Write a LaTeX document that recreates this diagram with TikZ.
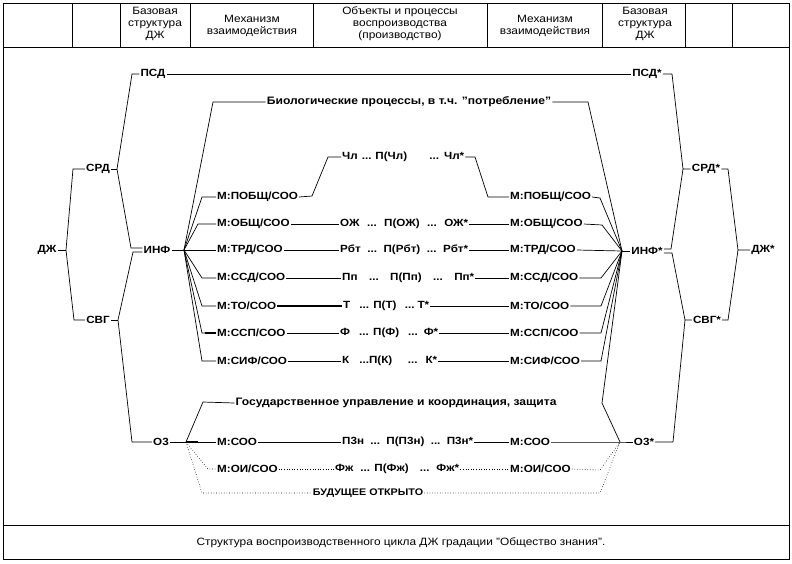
\documentclass[tikz,border=0pt]{standalone}
\usepackage{fontspec}
\setmainfont{Liberation Sans}[FakeStretch=1.12]
\newcommand{\rowbox}[2]{\hbox to #1{#2}}
\begin{document}
\begin{tikzpicture}[x=1pt,y=-1pt,
  lbl/.style={font=\fontsize{10.4}{12}\selectfont\bfseries, inner sep=1pt},
  big/.style={font=\fontsize{10.8}{12}\selectfont\bfseries, inner sep=1pt},
  hdr/.style={font=\fontsize{10.6}{12}\selectfont, align=center, inner sep=0pt},
  ln/.style={line width=0.7pt},
  frm/.style={line width=1pt},
  dot/.style={line width=0.6pt, dotted},
  thk/.style={line width=1.3pt}]
\useasboundingbox (0,0) rectangle (792,563);
% frame and table
\draw[frm] (3,3) rectangle (789,559);
\draw[frm] (3,47) -- (789,47);
\draw[frm] (3,525) -- (789,525);
\foreach \xx in {72,120,190,313,487,602,685,732} \draw[frm] (\xx,3) -- (\xx,47);
\node[hdr] (h1) at (155,24) {Базовая\\структура\\ДЖ};
\node[hdr] (h2) at (252,26) {Механизм\\взаимодействия};
\node[hdr] (h3) at (400,24) {Объекты и процессы\\воспроизводства\\(производство)};
\node[hdr] (h4) at (545,26) {Механизм\\взаимодействия};
\node[hdr] (h5) at (645,24) {Базовая\\структура\\ДЖ};
\node[hdr] (cap) at (401,543) {Структура воспроизводственного цикла ДЖ градации "Общество знания".};
% left structure
\node[lbl] (dzh) at (47,250) {ДЖ};
\node[lbl] (srd) at (98,169) {СРД};
\node[lbl] (svg) at (98,320) {СВГ};
\node[lbl] (psd) at (153,74) {ПСД};
\node[lbl] (inf) at (157,250) {ИНФ};
\node[lbl] (oz) at (161,442) {О3};
\coordinate (F) at (184,250);
\coordinate (G) at (186,442);
% right structure
\node[lbl] (dzhs) at (763,250) {ДЖ*};
\node[lbl] (srds) at (706,169) {СРД*};
\node[lbl] (svgs) at (707,320) {СВГ*};
\node[lbl] (psds) at (647,74) {ПСД*};
\node[lbl] (infs) at (647,251) {ИНФ*};
\node[lbl] (ozs) at (644,442) {О3*};
\coordinate (Fs) at (622,251);
\coordinate (Gs) at (620,442);
% processes
\node[big] (bio) at (409,102) {Биологические процессы, в т.ч. "потребление"};
\node[big] (gos) at (396,403) {Государственное управление и координация, защита};
\node[lbl, font=\fontsize{9.6}{11}\selectfont\bfseries] (bud) at (368,493) {БУДУЩЕЕ ОТКРЫТО};
% left mechanisms
\foreach \nm/\yy/\tx in {mL1/197/{М:ПОБЩ/СОО}, mL2/224/{М:ОБЩ/СОО}, mL3/250/{М:ТРД/СОО}, mL4/278/{М:ССД/СОО}, mL5/306/{М:ТО/СОО}, mL6/333/{М:ССП/СОО}, mL7/361/{М:СИФ/СОО}, mL8/442/{М:СОО}, mL9/469/{М:ОИ/СОО}}
  \node[lbl, anchor=west] (\nm) at (216,\yy) {\tx};
\foreach \nm/\yy/\tx in {mR1/197/{М:ПОБЩ/СОО}, mR2/224/{М:ОБЩ/СОО}, mR3/250/{М:ТРД/СОО}, mR4/278/{М:ССД/СОО}, mR5/306/{М:ТО/СОО}, mR6/333/{М:ССП/СОО}, mR7/361/{М:СИФ/СОО}, mR8/442/{М:СОО}, mR9/469/{М:ОИ/СОО}}
  \node[lbl, anchor=west] (\nm) at (509,\yy) {\tx};
% objects
\node[lbl, anchor=west] (r1) at (341,157) {\rowbox{122pt}{Чл\hspace{4pt}...\hspace{4pt}П(Чл)\hfill...\hspace{5pt}Чл*}};
\node[lbl, anchor=west] (r2) at (339,224) {\rowbox{128pt}{ОЖ\hfill...\hfill П(ОЖ)\hfill...\hfill ОЖ*}};
\node[lbl, anchor=west] (r3) at (339,250) {\rowbox{128pt}{Рбт\hfill...\hfill П(Рбт)\hfill...\hfill Рбт*}};
\node[lbl, anchor=west] (r4) at (341,278) {\rowbox{132pt}{Пп\hfill...\hfill П(Пп)\hfill...\hfill Пп*}};
\node[lbl, anchor=west] (r5) at (342,306) {\rowbox{86pt}{Т\hspace{9pt}... П(Т)\hfill...\hspace{3pt}Т*}};
\node[lbl, anchor=west] (r6) at (339,333) {\rowbox{98pt}{Ф\hspace{9pt}... П(Ф)\hfill...\hspace{6pt}Ф*}};
\node[lbl, anchor=west] (r7) at (341,361) {\rowbox{95pt}{К\hspace{10pt}...П(К)\hfill...\hspace{8pt}К*}};
\node[lbl, anchor=west] (r8) at (341,442) {\rowbox{131pt}{П3н\hfill...\hfill П(П3н)\hfill...\hfill П3н*}};
\node[lbl, anchor=west] (r9) at (334,469) {\rowbox{124pt}{Фж\hspace{7pt}... П(Фж)\hfill...\hspace{7pt}Фж*}};
% left brackets
\draw[ln] (dzh.east) -- (66,250);
\draw[ln] (srd.west) -- (73,169) -- (66,250) -- (74,320) -- (svg.west);
\draw[ln] (srd.east) -- (117,169);
\draw[ln] (psd.west) -- (132,74) -- (117,169) -- (131,248) -- (inf.west |- 0,248);
\draw[ln] (svg.east) -- (118,320);
\draw[ln] (inf.west |- 0,252) -- (133,252) -- (118,320) -- (132,442) -- (oz.west);
\draw[ln] (psd.east) -- (psds.west);
% left fan
\draw[ln] (inf.east) -- (F);
\draw[ln] (F) -- (213,102) -- (bio.west);
\draw[ln] (F) -- (202,197) -- (mL1.west);
\draw[ln] (F) -- (198,224) -- (mL2.west);
\draw[ln] (F) -- (mL3.west);
\draw[ln] (F) -- (202,278) -- (mL4.west);
\draw[ln] (F) -- (202,306) -- (mL5.west);
\draw[ln] (F) -- (202,333) -- (mL6.west);
\draw[thk] (205,333) -- (mL6.west);
\draw[ln] (F) -- (202,361) -- (mL7.west);
% O3 left
\draw[ln] (oz.east) -- (G);
\draw[ln] (G) -- (203,402) -- (gos.west);
\draw[ln] (G) -- (mL8.west);
\draw[thk] (G) -- (198,442);
\draw[dot] (G) -- (208,469) -- (mL9.west);
\draw[dot] (G) -- (202,493) -- (bud.west);
% rows
\draw[ln] (mL1.east) -- (312,196) -- (328,157) -- (r1.west);
\draw[ln] (r1.east) -- (475,157) -- (488,197) -- (mR1.west);
\draw[ln] (mL2.east) -- (r2.west);
\draw[ln] (r2.east) -- (mR2.west);
\draw[ln] (mL3.east) -- (r3.west);
\draw[ln] (r3.east) -- (mR3.west);
\draw[ln] (mL4.east) -- (r4.west);
\draw[ln] (r4.east) -- (mR4.west);
\draw[thk] (mL5.east) -- (r5.west);
\draw[ln] (r5.east) -- (mR5.west);
\draw[ln] (mL6.east) -- (r6.west);
\draw[ln] (r6.east) -- (mR6.west);
\draw[ln] (mL7.east) -- (r7.west);
\draw[ln] (r7.east) -- (mR7.west);
\draw[ln] (mL8.east) -- (r8.west);
\draw[ln] (r8.east) -- (mR8.west);
\draw[dot] (mL9.east) -- (r9.west);
\draw[dot] (r9.east) -- (mR9.west);
% right fan
\draw[ln] (Fs) -- (infs.west);
\draw[ln] (bio.east) -- (588,102) -- (Fs);
\draw[ln] (mR1.east) -- (600,198) -- (Fs);
\draw[ln] (mR2.east) -- (602,225) -- (Fs);
\draw[ln] (mR3.east) -- (Fs);
\draw[ln] (mR4.east) -- (601,278) -- (Fs);
\draw[ln] (mR5.east) -- (601,306) -- (Fs);
\draw[ln] (mR6.east) -- (601,333) -- (Fs);
\draw[ln] (mR7.east) -- (601,361) -- (Fs);
\draw[ln, double, double distance=1.2pt] (gos.east) -- (602,403);
\draw[ln] (Fs) -- (602,403) -- (Gs);
% O3 right
\draw[ln] (mR8.east) -- (Gs) -- (ozs.west);
\draw[dot] (mR9.east) -- (600,470) -- (Gs);
\draw[dot] (bud.east) -- (600,493) -- (Gs);
% right brackets
\draw[ln] (psds.east) -- (672,74) -- (683,169) -- (srds.west);
\draw[ln] (infs.east |- 0,249) -- (671,249) -- (683,169);
\draw[ln] (infs.east |- 0,253) -- (672,253) -- (685,320) -- (svgs.west);
\draw[ln] (685,320) -- (673,442) -- (ozs.east);
\draw[ln] (srds.east) -- (728,169) -- (738,250) -- (dzhs.west);
\draw[ln] (svgs.east) -- (728,320) -- (738,250);
\end{tikzpicture}
\end{document}
